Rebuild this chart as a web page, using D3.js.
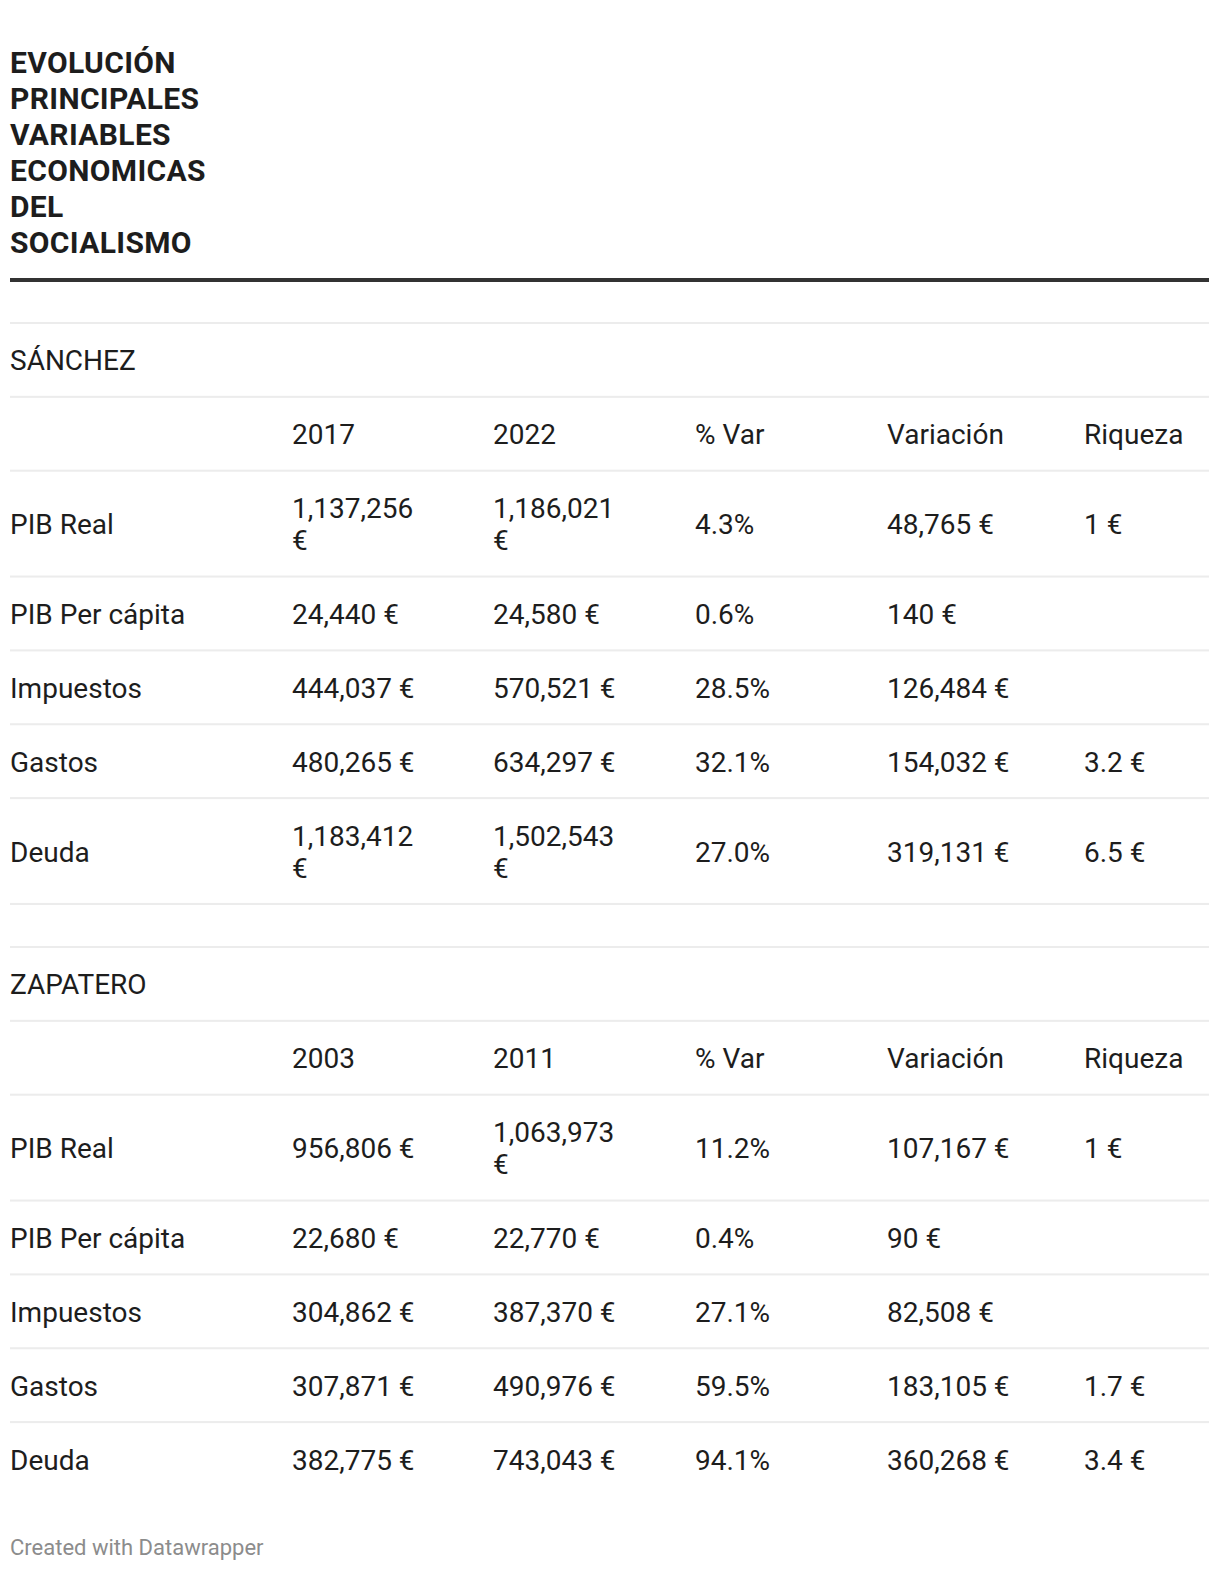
<!DOCTYPE html>
<html><head><meta charset="utf-8">
<script src="https://cdn.jsdelivr.net/npm/d3@7"></script>
<style>
body{margin:0;background:#fff;}
svg{display:block;}
text{font-family:Roboto,"Noto Sans",sans-serif;}
</style></head><body>
<svg id="c" width="1220" height="1572"></svg>
<script>
// ---------- data ----------
const titleText = "EVOLUCIÓN PRINCIPALES VARIABLES ECONOMICAS DEL SOCIALISMO";
const footerText = "Created with Datawrapper";
const sectionNames = ["SÁNCHEZ", "ZAPATERO"];
const sanchezYears = ["2017", "2022"];
const zapateroYears = ["2003", "2011"];
const extraHeaders = ["% Var", "Variación", "Riqueza"];
const variables = ["PIB Real", "PIB Per cápita", "Impuestos", "Gastos", "Deuda"];

const sanchezStart = [1137256, 24440, 444037, 480265, 1183412];
const sanchezEnd = [1186021, 24580, 570521, 634297, 1502543];
const sanchezPct = [4.3, 0.6, 28.5, 32.1, 27.0];
const sanchezVar = [48765, 140, 126484, 154032, 319131];
const sanchezRiqueza = [1, null, null, 3.2, 6.5];

const zapateroStart = [956806, 22680, 304862, 307871, 382775];
const zapateroEnd = [1063973, 22770, 387370, 490976, 743043];
const zapateroPct = [11.2, 0.4, 27.1, 59.5, 94.1];
const zapateroVar = [107167, 90, 82508, 183105, 360268];
const zapateroRiqueza = [1, null, null, 1.7, 3.4];

// ---------- formatting ----------
const fmtEuro = v => d3.format(",")(v) + " €";
const fmtPct = v => d3.format(".1f")(v) + "%";
const fmtRiq = v => v == null ? "" : (d3.format("~f")(v) + " €");

function buildSection(name, years, start, end, pct, vr, riq) {
  const rows = [];
  rows.push({type: "section", cells: [name, "", "", "", "", ""]});
  rows.push({type: "header", cells: ["", years[0], years[1], ...extraHeaders]});
  variables.forEach((v, i) => {
    rows.push({type: "data", cells: [v, fmtEuro(start[i]), fmtEuro(end[i]), fmtPct(pct[i]), fmtEuro(vr[i]), fmtRiq(riq[i])]});
  });
  return rows;
}
const tables = [
  buildSection(sectionNames[0], sanchezYears, sanchezStart, sanchezEnd, sanchezPct, sanchezVar, sanchezRiqueza),
  buildSection(sectionNames[1], zapateroYears, zapateroStart, zapateroEnd, zapateroPct, zapateroVar, zapateroRiqueza)
];

// ---------- layout ----------
const svg = d3.select("#c");
const left = 10, right = 1209;
const colX = d3.scaleOrdinal().domain(d3.range(6)).range([10, 292, 493, 695, 887, 1084]);
const textColor = "#1d1d1d";
const fs = 28, lineH = 32, baseRow = 41.85, maxCellW = 135;

// title
const titleWords = titleText.split(" ");
svg.append("g").selectAll("text").data(titleWords).join("text")
  .attr("x", left).attr("y", (d, i) => 72.8 + i * 36)
  .attr("font-size", 30).attr("font-weight", 700).attr("letter-spacing", 0.35).attr("fill", "#1d1d1d")
  .text(d => d);

svg.append("rect").attr("x", left).attr("y", 278).attr("width", right - left).attr("height", 4).attr("fill", "#333");

// measure helper
const meas = svg.append("text").attr("font-size", fs).attr("visibility", "hidden");
function wrap(str, col) {
  if (col === 0 || !str) return [str];
  meas.text(str);
  const w = meas.node().getComputedTextLength();
  if (w > maxCellW && str.indexOf(" ") > 0) {
    const k = str.lastIndexOf(" ");
    return [str.slice(0, k), str.slice(k + 1)];
  }
  return [str];
}

const tableTops = [322, 946];
tables.forEach((rows, ti) => {
  let y = tableTops[ti];
  const g = svg.append("g");
  rows.forEach((r, ri) => {
    const cellLines = r.cells.map((c, ci) => wrap(c, ci));
    const n = d3.max(cellLines, l => l.length);
    const h = baseRow + lineH * n;
    g.append("rect").attr("x", left).attr("y", y).attr("width", right - left).attr("height", 2).attr("fill", "#ececec");
    cellLines.forEach((lines, ci) => {
      const m = lines.length;
      const b0 = y + h / 2 + 11.5 - (m - 1) * lineH / 2;
      const t = g.append("text").attr("x", colX(ci)).attr("font-size", fs).attr("fill", textColor);
      lines.forEach((ln, li) => {
        t.append("tspan").attr("x", colX(ci)).attr("y", b0 + li * lineH).text(ln);
      });
    });
    y += h;
  });
  if (ti === 0) {
    g.append("rect").attr("x", left).attr("y", y).attr("width", right - left).attr("height", 2).attr("fill", "#ececec");
  }
});
meas.remove();

svg.append("text").attr("x", left).attr("y", 1555).attr("font-size", 22).attr("fill", "#8c8c8c").text(footerText);
</script>
</body></html>
